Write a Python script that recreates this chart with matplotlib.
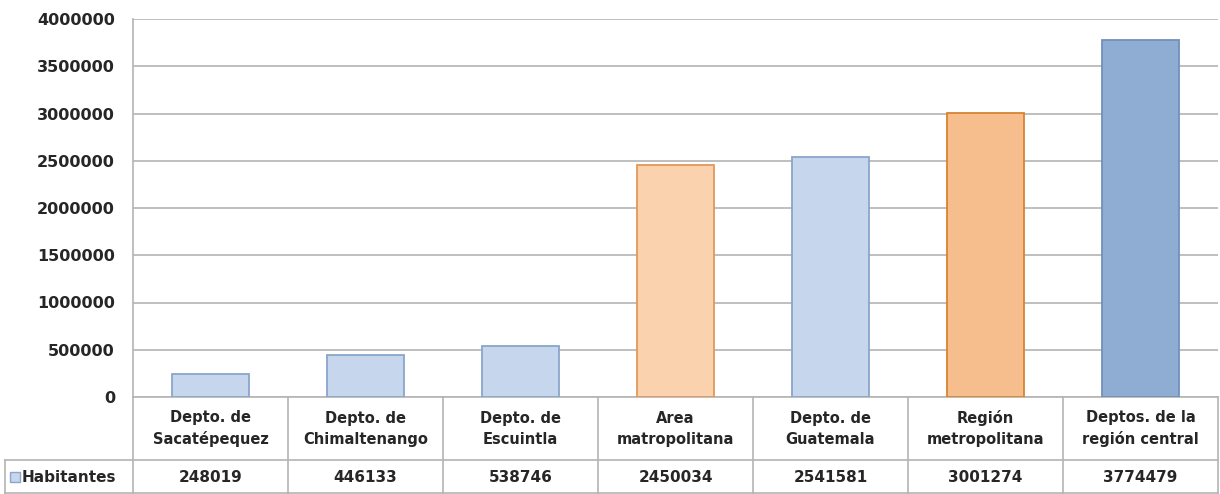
import numpy as np
import matplotlib.pyplot as plt
import matplotlib.transforms as mtransforms
from matplotlib.patches import Rectangle

categorias = ["Depto. de\nSacatépequez", "Depto. de\nChimaltenango", "Depto. de\nEscuintla",
              "Area\nmatropolitana", "Depto. de\nGuatemala", "Región\nmetropolitana",
              "Deptos. de la\nregión central"]
habitantes = [248019, 446133, 538746, 2450034, 2541581, 3001274, 3774479]
serie = "Habitantes"
yticks = [0, 500000, 1000000, 1500000, 2000000, 2500000, 3000000, 3500000, 4000000]

relleno = ["#C6D6EC", "#C6D6EC", "#C6D6EC", "#FAD2AE", "#C6D6EC", "#F6BE8C", "#8FADD3"]
borde = ["#8AA6CC", "#8AA6CC", "#8AA6CC", "#E0995A", "#8AA6CC", "#D9832F", "#7190BA"]

plt.rcParams['font.family'] = ['DejaVu Sans']
texto = dict(fontsize=10.5, fontweight='bold', color='#262626')
gris = '#B4B4B4'

W, H = 1220, 494
fig = plt.figure(figsize=(W / 100, H / 100), dpi=100)
x0, x1, y0, y1 = 133, 1218, 397, 19
ax = fig.add_axes([x0 / W, 1 - y0 / H, (x1 - x0) / W, (y0 - y1) / H])

x = np.arange(len(categorias))
ax.bar(x, habitantes, width=0.5, color=relleno, edgecolor=borde, linewidth=1.3, zorder=3)

ax.set_xlim(-0.5, len(categorias) - 0.5)
ax.set_ylim(0, 4000000)
ax.set_yticks(yticks)
ax.set_yticklabels([str(v) for v in yticks], fontsize=11.5, fontweight='bold', color='#262626')
ax.tick_params(axis='y', length=0, pad=13)
ax.set_xticks([])
ax.grid(axis='y', color=gris, linewidth=1.2, zorder=0)
for s in ['top', 'right', 'bottom']:
    ax.spines[s].set_visible(False)
ax.spines['left'].set_color(gris)
ax.spines['left'].set_linewidth(1.2)

# tabla de datos debajo del grafico
trans = mtransforms.blended_transform_factory(ax.transData, fig.transFigure)
fy = lambda py: 1 - py / H
fila1, fila2 = 460, 494
for b in np.arange(len(categorias) + 1) - 0.5:
    ax.plot([b, b], [fy(y0), fy(fila2)], color=gris, lw=1.2, transform=trans, clip_on=False)
ax.plot([-0.5, len(categorias) - 0.5], [fy(y0), fy(y0)], color=gris, lw=1.2,
        transform=trans, clip_on=False)
fig.add_artist(plt.Line2D([5 / W, x1 / W], [fy(fila1), fy(fila1)], color=gris, lw=1.2))
fig.add_artist(plt.Line2D([5 / W, x1 / W], [fy(fila2) + 0.002, fy(fila2) + 0.002], color=gris, lw=1.2))
fig.add_artist(plt.Line2D([5 / W, 5 / W], [fy(fila1), fy(fila2)], color=gris, lw=1.2))

for i, (c, v) in enumerate(zip(categorias, habitantes)):
    ax.text(i, fy((y0 + fila1) / 2), c, transform=trans, ha='center', va='center',
            linespacing=1.5, **texto)
    ax.text(i, fy((fila1 + fila2) / 2), str(v), transform=trans, ha='center', va='center',
            **dict(texto, fontsize=11))

fig.add_artist(Rectangle((10 / W, fy(482)), 10 / W, 10 / H, facecolor=relleno[0],
                         edgecolor=borde[0], lw=1))
fig.text(22 / W, fy((fila1 + fila2) / 2), serie, ha='left', va='center', **dict(texto, fontsize=11))

fig.savefig("out.png", dpi=100)
